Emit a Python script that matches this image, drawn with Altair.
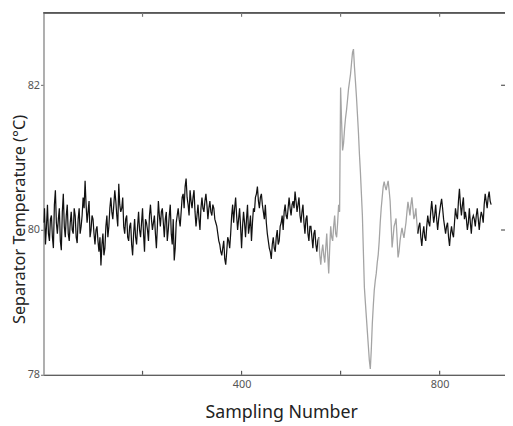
import altair as alt
import pandas as pd

# separator temperature readings at samples 0, 4, 8, ... 904
samples_a = list(range(0, 905, 4))
temps_a = [
    80.10, 79.80, 80.35, 79.85, 80.20, 79.75, 80.55, 79.95, 80.30, 79.72,
    80.50, 79.90, 80.35, 79.85, 80.25, 79.95, 80.20, 79.82, 80.30, 80.05,
    80.45, 80.68, 80.10, 80.40, 80.00,
    80.15, 79.80, 80.05, 79.70, 79.51, 79.95, 79.75, 80.20, 80.05, 80.45,
    80.15, 80.55, 80.20, 80.64, 80.25, 80.45, 79.95, 80.20, 79.85, 80.10,
    79.65, 80.15, 79.80, 80.25, 79.90,
    80.30, 79.70, 80.10, 79.85, 80.35, 80.00, 80.20, 79.75, 80.40, 80.05,
    80.30, 79.90, 80.25, 80.00, 80.35, 79.80, 79.58, 80.10, 80.30, 80.05,
    80.45, 80.30, 80.71, 80.35, 80.55,
    80.30, 80.55, 80.05, 80.35, 80.00, 80.45, 80.25, 80.50, 80.15, 80.40,
    80.20, 80.30, 80.10, 79.95, 79.80, 79.65, 79.85, 79.52, 79.90, 79.75,
    80.20, 80.10, 80.45, 80.00, 80.30,
    79.75, 80.25, 79.90, 80.35, 80.05, 79.85, 80.30, 80.45, 80.60, 80.30,
    80.50, 80.25, 80.35, 79.95, 79.75, 79.60, 79.90, 79.70, 80.00, 79.85,
    80.10, 80.00, 80.35, 80.15, 80.45,
    80.20, 80.40, 80.53, 80.25, 80.45, 80.10, 80.35, 79.95, 80.20, 79.85,
    80.05, 79.75, 80.00, 79.70, 79.90, 79.52, 79.80, 79.55, 79.95, 79.40,
    80.05, 79.85, 80.20, 79.90, 80.35,
    81.97, 81.10, 81.40, 81.66, 81.95, 82.15, 82.45, 82.25, 81.84, 81.35,
    80.80, 80.20, 79.21, 78.80, 78.40, 78.08, 78.70, 79.17, 79.40, 79.66,
    80.10, 80.45, 80.67, 80.55, 80.68,
    80.40, 79.76, 80.05, 80.16, 79.62, 79.85, 80.03, 79.89, 80.10, 80.39,
    80.20, 80.45, 80.15, 80.30, 79.95, 80.10, 79.78, 80.05, 79.85, 80.20,
    80.05, 80.40, 80.10, 80.35, 80.00,
    80.25, 80.43, 80.15, 79.95, 80.10, 79.78, 80.05, 79.90, 80.30, 80.15,
    80.57, 80.20, 80.45, 80.25, 80.00, 80.30, 79.95, 80.20, 80.05, 80.30,
    80.00, 80.25, 80.10, 80.50, 80.30, 80.53, 80.35,
]
# readings at samples 2, 6, 10, ... 902
samples_b = list(range(2, 903, 4))
temps_b = [
    80.30, 80.05, 79.95, 80.15, 79.90, 80.35, 80.10, 80.15, 79.85, 80.25,
    80.05, 80.20, 79.95, 80.10, 80.00, 80.30, 79.90, 80.15, 79.95, 80.20,
    80.30, 80.35, 80.25, 79.90, 80.20,
    79.95, 80.00, 79.85, 79.90, 79.80, 79.65, 80.05, 79.90, 80.30, 80.25,
    80.35, 80.40, 80.05, 80.35, 80.30, 80.05, 80.15, 79.90, 80.05, 79.80,
    79.95, 79.90, 80.05, 80.00, 80.10,
    79.95, 80.15, 80.00, 80.20, 80.15, 80.10, 79.95, 80.05, 80.20, 80.25,
    80.10, 80.15, 79.85, 80.20, 79.95, 80.15, 79.75, 80.20, 80.15, 80.25,
    80.50, 80.60, 80.45, 80.20, 80.40,
    80.45, 80.25, 80.20, 80.15, 80.30, 80.30, 80.40, 80.35, 80.30, 80.25,
    80.35, 80.15, 80.05, 79.85, 79.70, 79.75, 79.60, 79.70, 79.85, 79.95,
    80.35, 80.30, 80.20, 80.15, 80.05,
    80.05, 80.10, 80.15, 79.95, 80.20, 80.10, 80.25, 80.50, 80.40, 80.45,
    80.35, 80.15, 80.10, 79.85, 79.70, 79.80, 79.75, 79.90, 79.80, 80.05,
    80.20, 80.25, 80.20, 80.30, 80.30,
    80.35, 80.30, 80.40, 80.35, 80.20, 80.25, 80.10, 80.15, 79.95, 80.05,
    79.90, 79.95, 79.80, 79.85, 79.65, 79.70, 79.65, 79.75, 79.65, 79.75,
    79.90, 80.05, 79.95, 80.10, 80.25,
    81.50, 81.20, 81.55, 81.80, 82.05, 82.30, 82.50, 82.05, 81.60, 81.05,
    80.50, 79.70, 79.00, 78.60, 78.20, 78.35, 78.95, 79.30, 79.55, 79.85,
    80.30, 80.60, 80.60, 80.62, 80.55,
    80.10, 79.90, 80.10, 79.90, 79.70, 79.95, 79.95, 80.00, 80.25, 80.30,
    80.35, 80.30, 80.20, 80.10, 80.05, 79.90, 79.95, 79.90, 80.05, 80.10,
    80.25, 80.25, 80.20, 80.15, 80.15,
    80.35, 80.30, 80.05, 80.05, 79.90, 79.95, 79.95, 80.10, 80.20, 80.40,
    80.35, 80.35, 80.15, 80.15, 80.10, 80.10, 80.15, 80.15, 80.20, 80.15,
    80.15, 80.20, 80.35, 80.40, 80.45, 80.40,
]
fault_start = 556
fault_end = 756

x_ticks = [200, 400, 600, 800]
x_labels = [400, 800]
y_ticks = [78, 80, 82]
right_ticks = [80, 82]

W, H = 468, 367
X_DOMAIN = [0, 932]
Y_DOMAIN = [78, 83]

pts = sorted(zip(samples_a + samples_b, temps_a + temps_b))
rows = []
for s, t in pts:
    if s <= fault_start:
        rows.append({"s": s, "t": t, "part": "a", "kind": "normal"})
    if fault_start <= s <= fault_end:
        rows.append({"s": s, "t": t, "part": "b", "kind": "fault"})
    if s >= fault_end:
        rows.append({"s": s, "t": t, "part": "c", "kind": "normal"})
df = pd.DataFrame(rows)

xs = alt.Scale(domain=X_DOMAIN, nice=False, zero=False)
ys = alt.Scale(domain=Y_DOMAIN, nice=False, zero=False)

line = alt.Chart(df).mark_line(clip=True).encode(
    x=alt.X("s:Q", scale=xs, axis=alt.Axis(
        values=x_labels, ticks=False, grid=False, domainColor="#333333",
        domainWidth=1.2, labelFontSize=11, labelColor="#555555",
        labelFont="Noto Sans", labelPadding=4,
        title="Sampling Number", titleFontSize=18, titleFontWeight="normal",
        titleFont="Noto Sans", titleColor="#222222", titleX=241,
        titleY=43, titleBaseline="alphabetic")),
    y=alt.Y("t:Q", scale=ys, axis=alt.Axis(
        values=y_ticks, format="d", grid=False, domainColor="#999999",
        domainWidth=1.5, tickSize=3, tickColor="#666666", labelFontSize=11,
        labelColor="#555555", labelFont="Noto Sans", labelPadding=1,
        title="Separator Temperature (\u00b0C)", titleFontSize=16.5,
        titleFontWeight="normal", titleFont="Noto Sans",
        titleColor="#222222", titleX=-16, titleY=209, titleAngle=-90,
        titleBaseline="bottom", titleAlign="center")),
    color=alt.Color("kind:N", scale=alt.Scale(domain=["normal", "fault"],
                    range=["#111111", "#a4a4a4"]), legend=None),
    strokeWidth=alt.StrokeWidth("kind:N", scale=alt.Scale(
        domain=["normal", "fault"], range=[1.25, 1.3]), legend=None),
    detail="part:N",
)

xt = pd.DataFrame({"v": x_ticks})
yt = pd.DataFrame({"v": right_ticks})

top_border = alt.Chart(xt).mark_rule(color="#555555", strokeWidth=1).encode(
    x=alt.value(0), x2=alt.value(W), y=alt.value(0))
bottom_ticks = alt.Chart(xt).mark_rule(color="#555555", strokeWidth=1.2).encode(
    x=alt.X("v:Q", scale=xs), y=alt.value(H - 4), y2=alt.value(H))
top_ticks = alt.Chart(xt).mark_rule(color="#777777", strokeWidth=1.2).encode(
    x=alt.X("v:Q", scale=xs), y=alt.value(0), y2=alt.value(4))
right_tk = alt.Chart(yt).mark_rule(color="#333333", strokeWidth=1).encode(
    y=alt.Y("v:Q", scale=ys), x=alt.value(W - 4), x2=alt.value(W))

chart = alt.layer(line, top_border, bottom_ticks, top_ticks, right_tk).properties(
    width=W, height=H,
    autosize=alt.AutoSizeParams(type="none"),
    padding={"left": 36, "top": 2, "right": 0, "bottom": 47},
).configure_view(stroke=None).configure(background="white")

chart.save("out.html", embed_options={"renderer": "svg", "actions": False})
